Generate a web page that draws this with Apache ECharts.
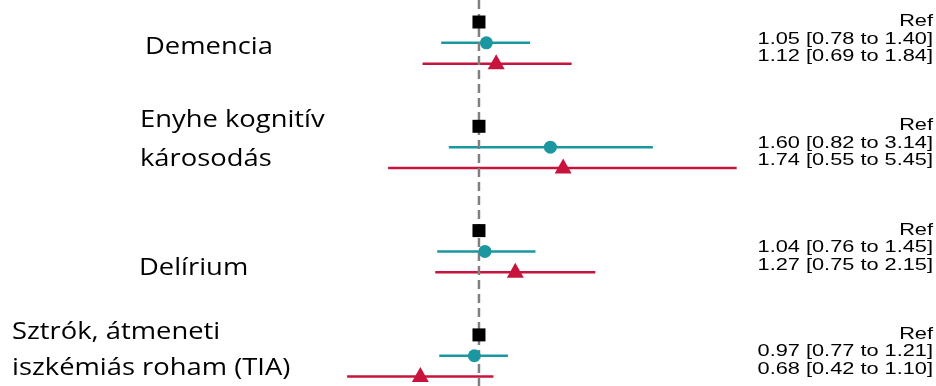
<!DOCTYPE html>
<html>
<head>
<meta charset="utf-8">
<script src="https://cdn.jsdelivr.net/npm/echarts@6/dist/echarts.min.js"></script>
<style>html,body{margin:0;padding:0;background:#fff;}#c{width:936px;height:386px;}</style>
</head>
<body>
<div id="c"></div>
<script>
// ---- data ----
const categories = ['Demencia', 'Enyhe kognitív\nkárosodás', 'Delírium', 'Sztrók, átmeneti\niszkémiás roham (TIA)'];
const refValues = [1, 1, 1, 1];
const tealEst = [1.05, 1.60, 1.04, 0.97];
const tealLo  = [0.78, 0.82, 0.76, 0.77];
const tealHi  = [1.40, 3.14, 1.45, 1.21];
const redEst  = [1.12, 1.74, 1.27, 0.68];
const redLo   = [0.69, 0.55, 0.75, 0.42];
const redHi   = [1.84, 5.45, 2.15, 1.10];
const refLabel = 'Ref';
const nullLine = [1];

// ---- style / layout ----
const TEAL = '#1b97a0', RED = '#c8143c';
const ROWS_PER_GROUP = 5;
const Y_MIN = -1.055, Y_MAX = 17.45;
const labelLeft = [145, 140, 139, 12];          // px, left edge of category labels
const labelCenterPx = [4, -8, 17, -6];          // px offset of label block centre from teal row
const labelLineGap = [0, 39, 0, 36];

const rowOf = (g, k) => g * ROWS_PER_GROUP + k;

const squares = refValues.map((v, g) => [v, rowOf(g, 0)]);
const tealPts = tealEst.map((v, g) => [v, rowOf(g, 1)]);
const redPts  = redEst.map((v, g) => [v, rowOf(g, 2)]);
const tealBars = tealLo.map((lo, g) => [lo, tealHi[g], rowOf(g, 1)]);
const redBars  = redLo.map((lo, g) => [lo, redHi[g], rowOf(g, 2)]);

const fmt = (e, l, h) => e.toFixed(2) + ' [' + l.toFixed(2) + ' to ' + h.toFixed(2) + ']';
const rightTexts = [];
categories.forEach((c, g) => {
  rightTexts.push({g: g, j: 0, t: refLabel});
  rightTexts.push({g: g, j: 1, t: fmt(tealEst[g], tealLo[g], tealHi[g])});
  rightTexts.push({g: g, j: 2, t: fmt(redEst[g], redLo[g], redHi[g])});
});
const leftTexts = [];
categories.forEach((c, g) => {
  const lines = c.split('\n');
  lines.forEach((t, i) => leftTexts.push({g: g, i: i, n: lines.length, t: t}));
});

function barRender(color) {
  return function (params, api) {
    const p1 = api.coord([api.value(0), api.value(2)]);
    const p2 = api.coord([api.value(1), api.value(2)]);
    return {type: 'line', shape: {x1: p1[0], y1: p1[1], x2: p2[0], y2: p2[1]},
            style: {stroke: color, lineWidth: 2.5}};
  };
}

const chart = echarts.init(document.getElementById('c'), null, {renderer: 'canvas'});
chart.setOption({
  animation: false,
  grid: {left: 339.7, right: 184.7, top: 0, bottom: 0},
  xAxis: {type: 'log', logBase: 10, min: 0.4, max: 6, show: false},
  yAxis: {type: 'value', inverse: true, min: Y_MIN, max: Y_MAX, show: false},
  series: [
    {type: 'custom', renderItem: barRender(TEAL), data: tealBars, z: 1, clip: false,
     encode: {x: [0, 1], y: 2}},
    {type: 'custom', renderItem: barRender(RED), data: redBars, z: 1, clip: false,
     encode: {x: [0, 1], y: 2}},
    {type: 'custom', data: nullLine.map(v => [v, Y_MIN, Y_MAX]), z: 2, clip: false,
     encode: {x: 0, y: [1, 2]},
     renderItem: function (params, api) {
       const p1 = api.coord([api.value(0), api.value(1)]);
       const p2 = api.coord([api.value(0), api.value(2)]);
       return {type: 'line', shape: {x1: p1[0], y1: p1[1], x2: p2[0], y2: p2[1]},
               style: {stroke: '#808080', lineWidth: 2.5, lineDash: [9, 5]}};
     }},
    {type: 'scatter', data: squares, symbol: 'rect', symbolSize: 13,
     itemStyle: {color: '#000', opacity: 1}, z: 3},
    {type: 'scatter', data: tealPts, symbol: 'circle', symbolSize: 13,
     itemStyle: {color: TEAL, opacity: 1}, z: 3},
    {type: 'scatter', data: redPts, symbol: 'triangle', symbolSize: [17, 15], symbolOffset: [0, -2],
     itemStyle: {color: RED, opacity: 1}, z: 3},
    {type: 'custom', data: rightTexts.map((d, i) => [1, rowOf(d.g, 1), i]), clip: false, z: 4,
     renderItem: function (params, api) {
       const d = rightTexts[params.dataIndex];
       const y = api.coord([1, rowOf(d.g, 1)])[1] + (d.j - 1) * 17.5 - 4;
       return {type: 'text', x: api.getWidth() - 3, y: y, scaleX: 1.28,
               style: {text: d.t, fill: '#000', font: '17px "Liberation Sans", Arial, sans-serif',
                       align: 'right', verticalAlign: 'middle'}};
     }},
    {type: 'custom', data: leftTexts.map((d, i) => [1, rowOf(d.g, 1), i]), clip: false, z: 4,
     renderItem: function (params, api) {
       const d = leftTexts[params.dataIndex];
       const yc = api.coord([1, rowOf(d.g, 1)])[1] + labelCenterPx[d.g];
       const y = yc + (d.i - (d.n - 1) / 2) * labelLineGap[d.g];
       return {type: 'text', x: labelLeft[d.g], y: y, scaleX: 1.14,
               style: {text: d.t, fill: '#000', font: '24px "Open Sans", sans-serif',
                       align: 'left', verticalAlign: 'middle'}};
     }}
  ]
});
</script>
</body>
</html>
